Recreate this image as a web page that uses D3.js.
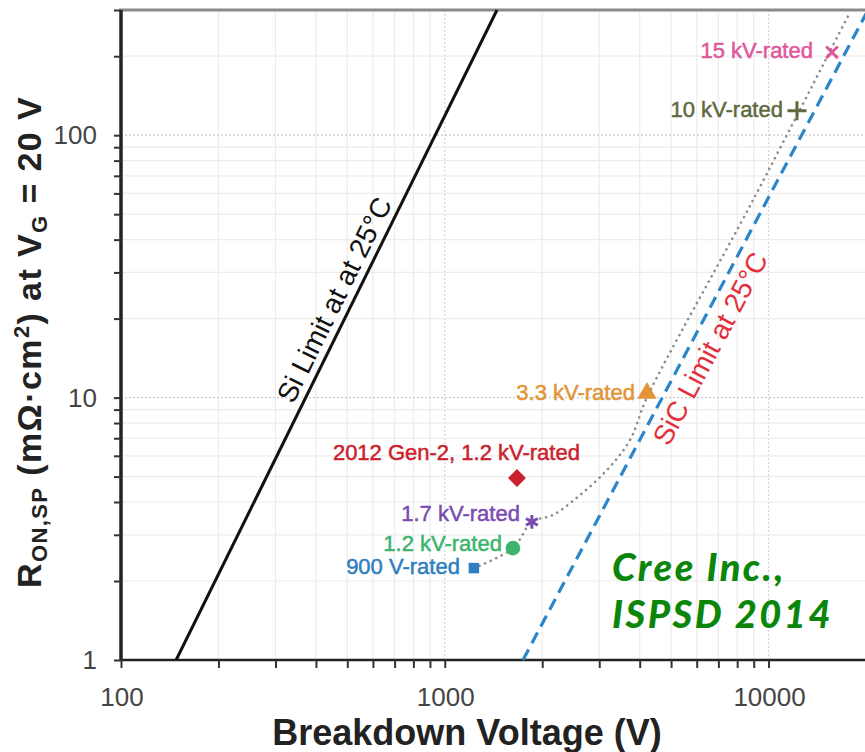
<!DOCTYPE html>
<html>
<head>
<meta charset="utf-8">
<script src="https://cdn.jsdelivr.net/npm/d3@7"></script>
<style>
  html, body { margin: 0; padding: 0; background: #fff; }
  svg { display: block; font-family: "Liberation Sans", Arial, sans-serif; }
</style>
</head>
<body>
<div id="viz"></div>
<script>
// Si and SiC unipolar limits (V, mOhm.cm2)
const siV = [148, 1450];
const siR = [1, 300];
const sicV = [1744, 20000];
const sicR = [1, 290];

// dotted trend through the Cree devices
const trendV = [1230, 1624, 1858, 2159, 2616, 3170, 3733, 4212, 8950, 17840];
const trendR = [2.24, 2.67, 3.36, 3.57, 4.25, 5.30, 6.89, 10.0, 56.5, 294];

// devices
const devices = ["900 V-rated", "1.2 kV-rated", "1.7 kV-rated", "2012 Gen-2, 1.2 kV-rated", "3.3 kV-rated", "10 kV-rated", "15 kV-rated"];
const deviceV = [1230, 1624, 1858, 1671, 4212, 12240, 15700];
const deviceR = [2.24, 2.67, 3.36, 4.94, 10.4, 124, 207];

const xTickLabels = [100, 1000, 10000];
const yTickLabels = [1, 10, 100];

document.addEventListener("DOMContentLoaded", () => {
  const width = 865, height = 752;

  const svg = d3.select("#viz")
    .append("svg")
      .attr("width", width)
      .attr("height", height);

  svg.append("rect").attr("width", width).attr("height", height).attr("fill", "#fff");

  const x = d3.scaleLog().domain([100, 20000]).range([121, 866]);
  const y = d3.scaleLog().domain([1, 300]).range([660, 10]);

  const colors = ["#2f7fc0", "#3cb46e", "#7a4cb0", "#cc1f2d", "#e39436", "#5d6b3c", "#e0579b"];
  const symbols = [d3.symbolSquare, d3.symbolCircle, d3.symbolAsterisk, d3.symbolSquare, d3.symbolTriangle, d3.symbolPlus, d3.symbolTimes];
  const symbolSize = [110, 170, 130, 160, 160, 120, 90];
  const symbolRot = [0, 0, 0, 45, 0, 0, 0];
  const filled = [true, true, false, true, true, false, false];
  // label placement relative to the marker
  const labelPos = [
    {dx: -14, dy: 6, anchor: "end"},
    {dx: -11, dy: 3, anchor: "end"},
    {dx: -12, dy: -1, anchor: "end"},
    {dx: 63, dy: -18, anchor: "end"},
    {dx: -12, dy: 7, anchor: "end"},
    {dx: -14, dy: 6, anchor: "end"},
    {dx: -19, dy: 6, anchor: "end"}
  ];

  const xTicks = x.ticks().filter(d => d < 20000);
  const yTicks = y.ticks();
  const isMajor = d => Math.abs(Math.log10(d) - Math.round(Math.log10(d))) < 1e-9;

  // grid
  const grid = svg.append("g");
  grid.selectAll(".vgrid")
    .data(xTicks.filter(d => d > 100))
    .join("line")
      .attr("x1", d => x(d)).attr("x2", d => x(d))
      .attr("y1", y(300)).attr("y2", y(1))
      .attr("stroke", d => isMajor(d) ? "#d4d4d4" : "#ececec")
      .attr("stroke-width", 1.2)
      .attr("stroke-dasharray", d => isMajor(d) ? "2,2" : null);
  grid.selectAll(".hgrid")
    .data(yTicks.filter(d => d > 1))
    .join("line")
      .attr("x1", x(100)).attr("x2", width)
      .attr("y1", d => y(d)).attr("y2", d => y(d))
      .attr("stroke", d => isMajor(d) ? "#c8c8c8" : "#ececec")
      .attr("stroke-width", 1.2)
      .attr("stroke-dasharray", d => isMajor(d) ? "2,2" : null);

  // top border
  svg.append("line")
    .attr("x1", x(100) - 2).attr("x2", width)
    .attr("y1", y(300)).attr("y2", y(300))
    .attr("stroke", "#8a8a8a").attr("stroke-width", 3);

  // axes
  const xAxis = d3.axisBottom(x).tickValues(xTicks).tickSize(8).tickFormat("");
  const yAxis = d3.axisLeft(y).tickValues(yTicks).tickSize(7).tickFormat("");

  const gx = svg.append("g").attr("transform", `translate(0,${y(1)})`).call(xAxis);
  gx.select(".domain").attr("stroke", "#222").attr("stroke-width", 2.5).attr("d", `M${x(100)},0H${width}`);
  gx.selectAll(".tick line").attr("stroke", "#333").attr("stroke-width", 2);

  const gy = svg.append("g").attr("transform", `translate(${x(100)},0)`).call(yAxis);
  gy.select(".domain").attr("stroke", "#222").attr("stroke-width", 3.5).attr("d", `M0,${y(1)}V${y(300)}`);
  gy.selectAll(".tick line").attr("stroke", "#333").attr("stroke-width", 2);

  svg.selectAll(".xlab")
    .data(xTickLabels)
    .join("text")
      .attr("x", d => x(d) + 1)
      .attr("y", 706)
      .attr("text-anchor", "middle")
      .style("font-size", "26px")
      .style("fill", "#444")
      .text(d => d);

  svg.selectAll(".ylab")
    .data(yTickLabels)
    .join("text")
      .attr("x", 97)
      .attr("y", d => y(d) + 9)
      .attr("text-anchor", "end")
      .style("font-size", "26px")
      .style("fill", "#444")
      .text(d => d);

  // axis titles
  svg.append("text")
    .attr("x", 467)
    .attr("y", 745)
    .attr("text-anchor", "middle")
    .style("font-size", "36px")
    .style("font-weight", "bold")
    .style("fill", "#222")
    .text("Breakdown Voltage (V)");

  const yt = svg.append("text")
    .attr("transform", "translate(41,342) rotate(-90)")
    .attr("text-anchor", "middle")
    .style("font-size", "34px")
    .style("font-weight", "bold")
    .style("letter-spacing", "1.4px")
    .style("fill", "#222");
  yt.append("tspan").text("R");
  yt.append("tspan").attr("baseline-shift", "-25%").style("font-size", "22px").text("ON,SP");
  yt.append("tspan").text(" (mΩ·cm");
  yt.append("tspan").attr("baseline-shift", "super").style("font-size", "22px").text("2");
  yt.append("tspan").text(") at V");
  yt.append("tspan").attr("baseline-shift", "-25%").style("font-size", "22px").text("G");
  yt.append("tspan").text(" = 20 V");

  const line = d3.line()
    .x(d => x(d[0]))
    .y(d => y(d[1]));

  const plot = svg.append("g");

  // trend
  plot.append("path")
    .datum(trendV.map((v, i) => [v, trendR[i]]))
    .attr("d", line.curve(d3.curveCatmullRom.alpha(0.5)))
    .attr("fill", "none")
    .attr("stroke", "#8c8c8c")
    .attr("stroke-width", 2.6)
    .attr("stroke-linecap", "round")
    .attr("stroke-dasharray", "0.1,6");

  // Si limit
  plot.append("path")
    .datum(siV.map((v, i) => [v, siR[i]]))
    .attr("d", line.curve(d3.curveLinear))
    .attr("fill", "none")
    .attr("stroke", "#111")
    .attr("stroke-width", 3);

  // SiC limit
  plot.append("path")
    .datum(sicV.map((v, i) => [v, sicR[i]]))
    .attr("d", line.curve(d3.curveLinear))
    .attr("fill", "none")
    .attr("stroke", "#2a86c8")
    .attr("stroke-width", 3.2)
    .attr("stroke-dasharray", "12,7");

  // limit labels, rotated along their lines
  const angleOf = (vs, rs) => Math.atan2(y(rs[1]) - y(rs[0]), x(vs[1]) - x(vs[0])) * 180 / Math.PI;
  const along = (vs, rs, v) => Math.exp(Math.log(rs[0]) + (Math.log(v) - Math.log(vs[0])) / (Math.log(vs[1]) - Math.log(vs[0])) * (Math.log(rs[1]) - Math.log(rs[0])));

  const siMidV = 510;
  svg.append("text")
    .attr("transform", `translate(${x(siMidV)},${y(along(siV, siR, siMidV))}) rotate(${angleOf(siV, siR)})`)
    .attr("text-anchor", "middle")
    .attr("dy", -8)
    .style("font-size", "28px")
    .style("fill", "#111")
    .text("Si Limit at at 25°C");

  const sicMidV = 5850;
  svg.append("text")
    .attr("transform", `translate(${x(sicMidV)},${y(along(sicV, sicR, sicMidV))}) rotate(${angleOf(sicV, sicR)})`)
    .attr("text-anchor", "middle")
    .attr("dy", 29)
    .style("font-size", "28px")
    .style("fill", "#e4303c")
    .text("SiC Limit at 25°C");

  // devices
  devices.forEach((name, i) => {
    const cx = x(deviceV[i]), cy = y(deviceR[i]);
    plot.append("path")
      .attr("transform", `translate(${cx},${cy}) rotate(${symbolRot[i]})`)
      .attr("d", d3.symbol(symbols[i], symbolSize[i])())
      .attr("fill", filled[i] ? colors[i] : "none")
      .attr("stroke", colors[i])
      .attr("stroke-width", filled[i] ? 0 : 3);

    svg.append("text")
      .attr("x", cx + labelPos[i].dx)
      .attr("y", cy + labelPos[i].dy)
      .attr("text-anchor", labelPos[i].anchor)
      .style("font-size", "22px")
      .style("fill", colors[i])
      .style("stroke", colors[i])
      .style("stroke-width", 0.5)
      .text(name);
  });

  // source note
  const note = svg.append("g")
    .style("font-family", "Lato, 'Open Sans', sans-serif")
    .style("font-weight", "900")
    .style("font-style", "italic")
    .style("font-size", "38px")
    .style("letter-spacing", "2.5px")
    .style("fill", "#0b860b");
  note.append("text").attr("x", 612).attr("y", 581).text("Cree Inc.,");
  note.append("text").attr("x", 612).attr("y", 628).text("ISPSD 2014");
});
</script>
</body>
</html>
